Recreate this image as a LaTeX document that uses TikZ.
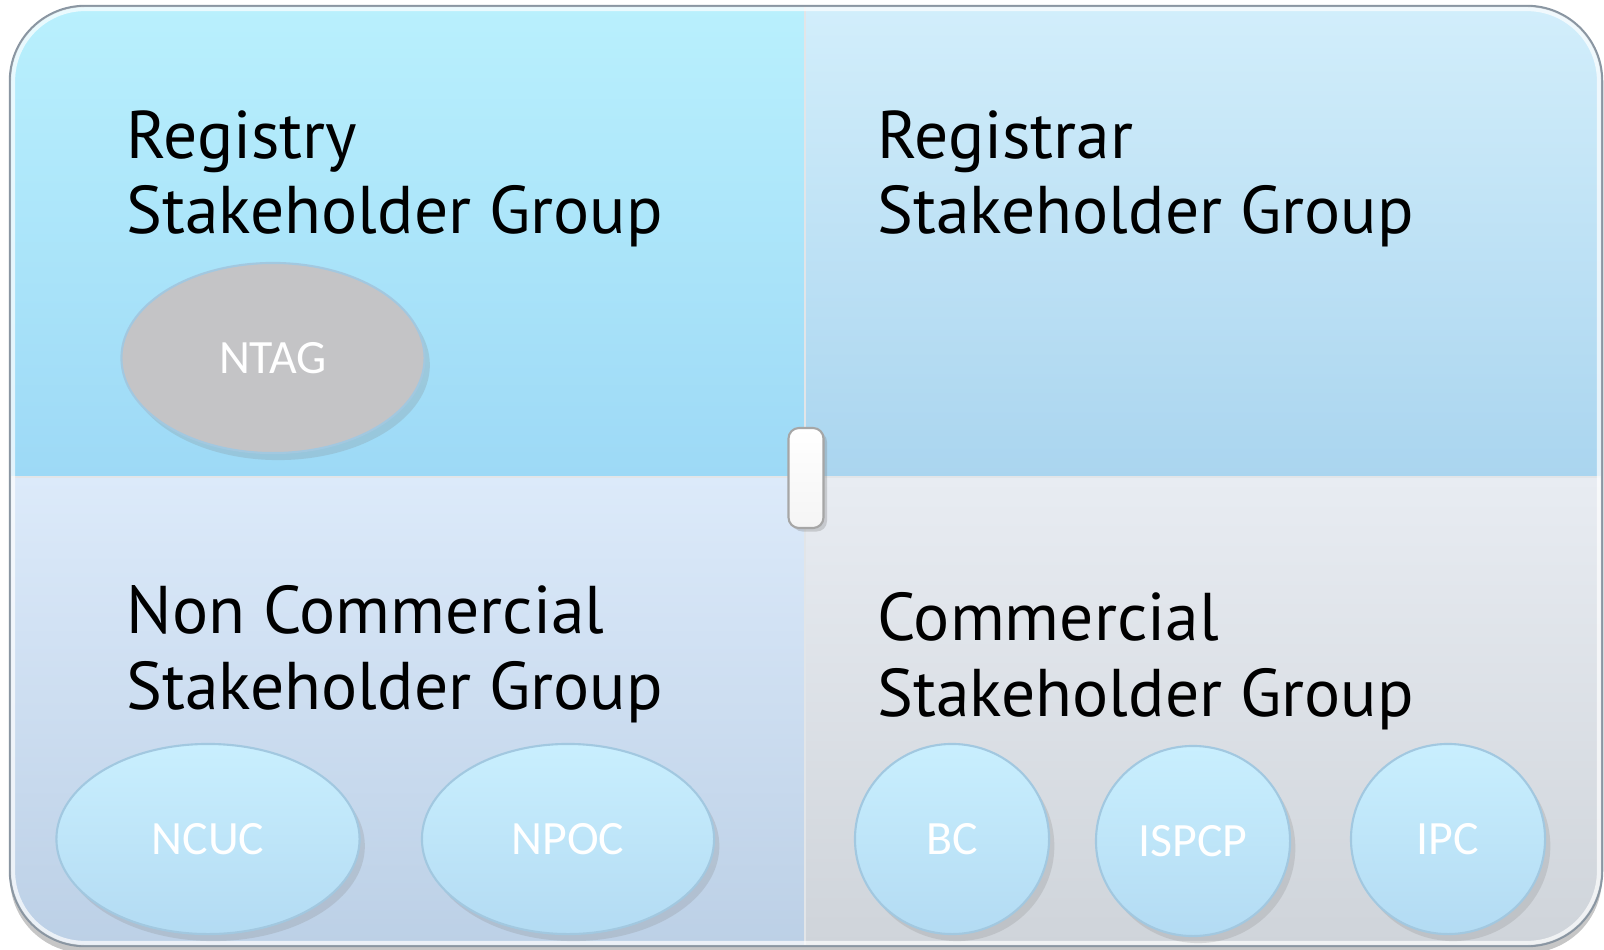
\documentclass[tikz,border=0pt]{standalone}
\usepackage{fontspec}
\setmainfont{PT Sans}
\newfontfamily\labelfont{Carlito}
\usetikzlibrary{positioning,shapes.geometric,shadows}

\definecolor{ryTop}{HTML}{B9F0FD}
\definecolor{ryBot}{HTML}{9DD9F6}
\definecolor{rrTop}{HTML}{D2EEFB}
\definecolor{rrBot}{HTML}{AAD5EF}
\definecolor{ncTop}{HTML}{DCEAFA}
\definecolor{ncBot}{HTML}{BCD0E6}
\definecolor{cmTop}{HTML}{E8ECF2}
\definecolor{cmBot}{HTML}{CFD4DA}
\definecolor{grpTop}{HTML}{C9EFFE}
\definecolor{grpBot}{HTML}{B3DBF3}
\definecolor{grpEdge}{HTML}{A2C8E0}
\definecolor{ntagGray}{HTML}{C4C4C6}
\definecolor{rimGray}{HTML}{8A96A2}

\tikzset{
  head/.style={anchor=base west,align=left,inner sep=0pt,
    font=\fontsize{19.2}{21.4}\selectfont},
  grp/.style={ellipse,inner sep=0pt,draw=grpEdge,line width=0.6pt,
    top color=grpTop,bottom color=grpBot,text=white,
    font=\labelfont\fontsize{13.6}{16}\selectfont,
    drop shadow={shadow xshift=1.5pt,shadow yshift=-2pt,opacity=.22}},
  oval/.style={grp,minimum width=3.03cm,minimum height=1.9cm},
  roundgrp/.style={grp,minimum width=1.94cm,minimum height=1.9cm},
  sep/.style={draw=white!75!rimGray,line width=0.5pt},
  hinge/.style={draw=gray!70,line width=0.6pt,rounded corners=3pt,
    top color=white,bottom color=gray!8,minimum width=0.35cm,
    minimum height=1cm,inner sep=0pt,
    drop shadow={shadow xshift=1pt,shadow yshift=-1pt,opacity=.3}}
}

\begin{document}
\begin{tikzpicture}[x=0.01cm,y=-0.01cm]
    \useasboundingbox (0,0) rectangle (1604,949);

    % frame and quadrants
    \path[fill=white,rounded corners=0.75cm,
        drop shadow={shadow xshift=0pt,shadow yshift=-2pt,opacity=.45}]
        (10,6) rectangle (1602,946);
    \begin{scope}
        \clip[rounded corners=0.75cm] (10,6) rectangle (1602,946);
        \shade[top color=ryTop,bottom color=ryBot] (10,6) rectangle (805,477);
        \shade[top color=rrTop,bottom color=rrBot] (805,6) rectangle (1602,477);
        \shade[top color=ncTop,bottom color=ncBot] (10,477) rectangle (805,946);
        \shade[top color=cmTop,bottom color=cmBot] (805,477) rectangle (1602,946);
        \draw[sep] (805,6) -- (805,946);
        \draw[sep] (10,477) -- (1602,477);
    \end{scope}
    \draw[rimGray,line width=0.7pt,rounded corners=0.75cm] (10,6) rectangle (1602,946);
    \draw[white,opacity=.7,line width=1.2pt,rounded corners=0.72cm] (13,9) rectangle (1599,943);

    \node[hinge] (hinge) at (806,478) {};

    % group titles
    \node[head] (rysg) at (126,234) {Registry\\Stakeholder Group};
    \node[head] (rrsg) at (877,234) {Registrar\\Stakeholder Group};
    \node[head] (ncsg) at (126,709) {Non Commercial\\Stakeholder Group};
    \node[head] (csg) at (877,716) {Commercial\\Stakeholder Group};

    % constituencies
    \node[oval,top color=ntagGray,bottom color=ntagGray] (ntag) at (273,358) {NTAG};
    \node[oval] (ncuc) at (208,839) {NCUC};
    \node[oval,minimum width=2.92cm] (npoc) at (568,839) {NPOC};
    \node[roundgrp] (bc) at (952,839) {BC};
    \node[roundgrp] (ispcp) at (1193,841) {ISPCP};
    \node[roundgrp] (ipc) at (1448,839) {IPC};
\end{tikzpicture}
\end{document}
